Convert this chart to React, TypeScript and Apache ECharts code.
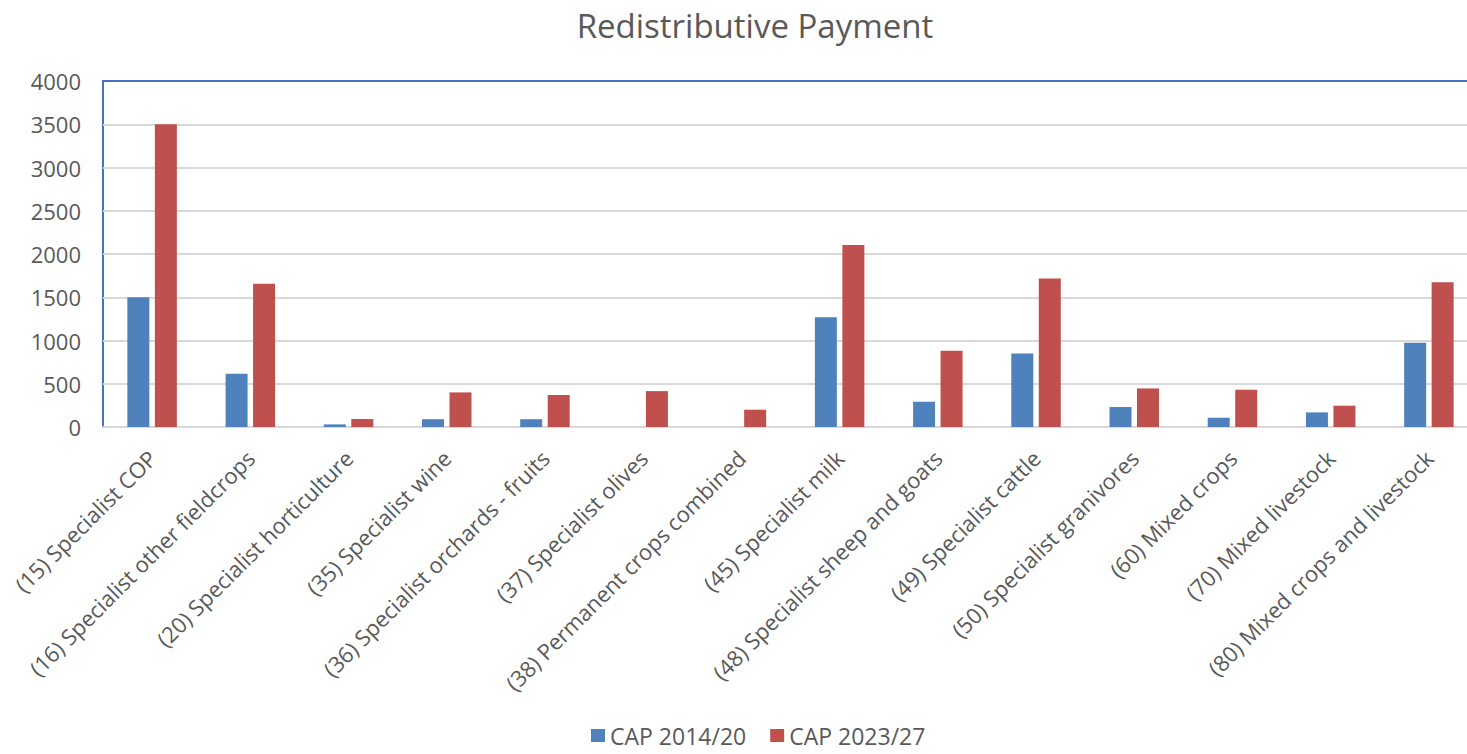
import React, { useEffect, useRef } from "react";
import * as echarts from "echarts";

const categories = [
  "(15) Specialist COP",
  "(16) Specialist other fieldcrops",
  "(20) Specialist horticulture",
  "(35) Specialist wine",
  "(36) Specialist orchards - fruits",
  "(37) Specialist olives",
  "(38) Permanent crops combined",
  "(45) Specialist milk",
  "(48) Specialist sheep and goats",
  "(49) Specialist cattle",
  "(50) Specialist granivores",
  "(60) Mixed crops",
  "(70) Mixed livestock",
  "(80) Mixed crops and livestock",
];

const cap2014 = [1500, 615, 30, 90, 90, 0, 0, 1270, 292, 850, 231, 107, 169, 973];
const cap2023 = [3500, 1655, 92, 400, 370, 415, 200, 2105, 881, 1716, 446, 431, 246, 1674];

const yTicks = { min: 0, max: 4000, interval: 500 };

export default function App() {
  const ref = useRef<HTMLDivElement>(null);
  useEffect(() => {
    if (!ref.current) return;
    const chart = echarts.init(ref.current, undefined, { renderer: "svg" });
    const font = "'Open Sans', 'Noto Sans', sans-serif";
    const grey = "#d9d9d9";
    const blue = "#4472c4";
    chart.setOption({
      animation: false,
      backgroundColor: "#ffffff",
      title: {
        text: "Redistributive Payment",
        left: 750,
        textAlign: "center",
        top: 4,
        textStyle: { fontFamily: font, fontSize: 33, fontWeight: "normal", color: "#595959" },
      },
      legend: {
        top: 719,
        left: 586,
        itemWidth: 14,
        itemHeight: 13,
        itemGap: 24,
        icon: "rect",
        textStyle: { fontFamily: font, fontSize: 23, color: "#595959" },
        data: ["CAP 2014/20", "CAP 2023/27"],
      },
      grid: {
        left: 103,
        top: 81,
        width: 1375,
        height: 346,
        show: true,
        borderColor: blue,
        borderWidth: 2,
        backgroundColor: "transparent",
      },
      xAxis: {
        type: "category",
        data: categories,
        axisTick: { show: false },
        axisLine: { show: true, lineStyle: { color: grey, width: 2 } },
        axisLabel: {
          rotate: 45,
          interval: 0,
          margin: 27,
          fontFamily: font,
          fontSize: 22,
          color: "#595959",
        },
      },
      yAxis: {
        type: "value",
        min: yTicks.min,
        max: yTicks.max,
        interval: yTicks.interval,
        axisLine: { show: false },
        axisTick: { show: false },
        splitLine: {
          lineStyle: {
            color: [grey, grey, grey, grey, grey, grey, grey, grey, blue],
            width: 2,
          },
        },
        axisLabel: {
          margin: 22,
          fontFamily: font,
          fontSize: 22,
          color: "#595959",
          formatter: (v: number) => String(v),
        },
      },
      series: [
        {
          name: "CAP 2014/20",
          type: "bar",
          data: cap2014,
          barWidth: 22,
          barGap: "25%",
          itemStyle: { color: "#4f81bd" },
        },
        {
          name: "CAP 2023/27",
          type: "bar",
          data: cap2023,
          barWidth: 22,
          barGap: "25%",
          itemStyle: { color: "#c0504d" },
        },
      ],
    });
    return () => chart.dispose();
  }, []);
  return (
    <div
      style={{ position: "absolute", left: 0, top: 0, width: 1467, height: 754, overflow: "hidden", background: "#fff" }}
    >
      <div ref={ref} style={{ width: 1490, height: 754 }} />
    </div>
  );
}
